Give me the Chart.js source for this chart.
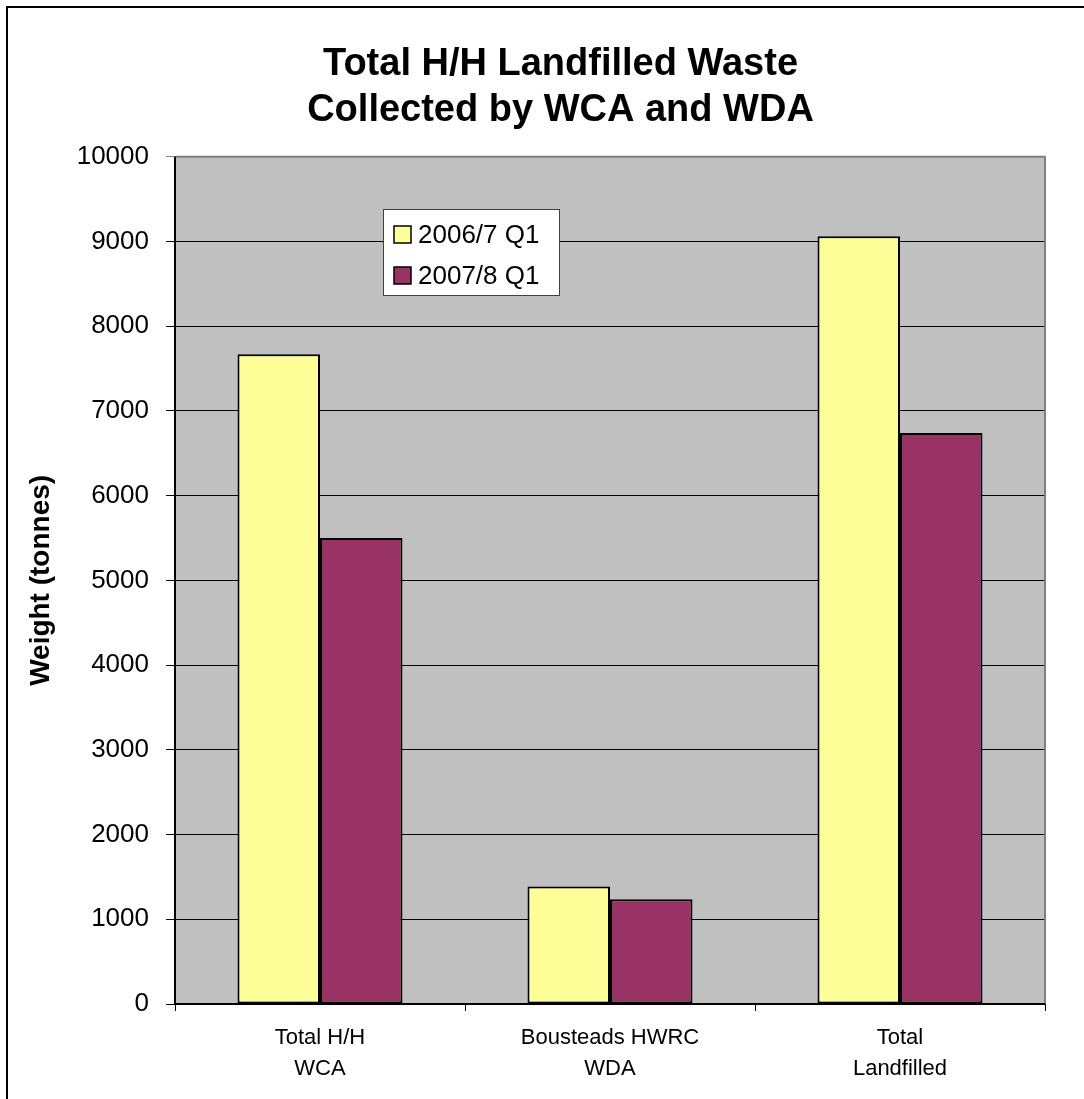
<!DOCTYPE html>
<html>
<head>
<meta charset="utf-8">
<script src="https://cdn.jsdelivr.net/npm/chart.js@4.4.1/dist/chart.umd.min.js"></script>
<style>
  html, body { margin: 0; padding: 0; background: #fff; overflow: hidden; }
  #wrap { position: relative; width: 1084px; height: 1099px; }
  #frame { position: absolute; left: 6px; top: 6px; width: 1200px; height: 1200px; border-top: 2px solid #000; border-left: 2px solid #000; }
  canvas { position: absolute; left: 0; top: 0; }
</style>
</head>
<body>
<div id="wrap">
  <div id="frame"></div>
  <canvas id="c" width="1084" height="1099"></canvas>
</div>
<script>
const categories = [["Total H/H", "WCA"], ["Bousteads HWRC", "WDA"], ["Total", "Landfilled"]];
const seriesNames = ["2006/7 Q1", "2007/8 Q1"];
const values2006 = [7670, 1386, 9062];
const values2007 = [5500, 1236, 6740];
const yTicks = [0, 1000, 2000, 3000, 4000, 5000, 6000, 7000, 8000, 9000, 10000];
const titleLines = ["Total H/H Landfilled Waste", "Collected by WCA and WDA"];
const yTitle = "Weight (tonnes)";

const FONT = "'Liberation Sans', Arial, sans-serif";

const plotBg = {
  id: 'plotBg',
  afterLayout(chart) {
    const t = chart.titleBlock;
    if (t) { t.left += 38; t.right += 38; }
  },
  beforeDraw(chart) {
    const { ctx, chartArea: a } = chart;
    ctx.save();
    ctx.fillStyle = '#C0C0C0';
    ctx.fillRect(a.left, a.top, a.right - a.left, a.bottom - a.top);
    ctx.restore();
  },
  afterDatasetsDraw(chart) {
    const { ctx, chartArea: a } = chart;
    ctx.save();
    ctx.strokeStyle = '#808080';
    ctx.lineWidth = 2;
    ctx.beginPath();
    ctx.moveTo(a.left, a.top);
    ctx.lineTo(a.right, a.top);
    ctx.lineTo(a.right, a.bottom);
    ctx.stroke();
    ctx.strokeStyle = '#000';
    ctx.lineWidth = 2;
    ctx.beginPath();
    ctx.moveTo(a.left, a.top);
    ctx.lineTo(a.left, a.bottom);
    ctx.lineTo(a.right, a.bottom);
    ctx.stroke();
    ctx.restore();
  }
};

const boxLegend = {
  id: 'boxLegend',
  afterDraw(chart) {
    const { ctx } = chart;
    const x = 383.5, y = 209.5, w = 176, h = 86;
    ctx.save();
    ctx.fillStyle = '#fff';
    ctx.fillRect(x, y, w, h);
    ctx.strokeStyle = '#404040';
    ctx.lineWidth = 1;
    ctx.strokeRect(x, y, w, h);
    ctx.font = "26px " + FONT;
    ctx.textBaseline = 'alphabetic';
    ctx.textAlign = 'left';
    chart.data.datasets.forEach((ds, i) => {
      const sy = 226 + i * 41;
      ctx.fillStyle = ds.backgroundColor;
      ctx.fillRect(394, sy, 17, 17);
      ctx.strokeStyle = '#000';
      ctx.lineWidth = 1.5;
      ctx.strokeRect(394, sy, 17, 17);
      ctx.fillStyle = '#000';
      ctx.fillText(ds.label, 418, 243 + i * 41);
    });
    ctx.restore();
  }
};

new Chart(document.getElementById('c'), {
  type: 'bar',
  data: {
    labels: categories,
    datasets: [
      { label: seriesNames[0], data: values2006, backgroundColor: '#FFFF99', borderColor: '#000', borderWidth: 2, borderSkipped: false },
      { label: seriesNames[1], data: values2007, backgroundColor: '#993366', borderColor: '#000', borderWidth: 2, borderSkipped: false }
    ]
  },
  options: {
    responsive: false,
    animation: false,
    devicePixelRatio: 1,
    layout: { padding: { left: 0, right: 39, top: 0, bottom: 0 } },
    datasets: { bar: { categoryPercentage: 0.569, barPercentage: 1.0 } },
    plugins: {
      legend: { display: false },
      tooltip: { enabled: false },
      title: {
        display: true,
        text: titleLines,
        color: '#000',
        font: { family: FONT, size: 38, weight: 'bold', lineHeight: 1.22 },
        padding: { top: 41, bottom: 23 }
      }
    },
    scales: {
      x: {
        offset: true,
        grid: { display: true, drawOnChartArea: false, drawTicks: true, tickLength: 7, color: '#000', lineWidth: 1, offset: true },
        border: { display: false },
        ticks: { color: '#000', font: { family: FONT, size: 22, lineHeight: 1.38 }, padding: 12, maxRotation: 0, autoSkip: false },
        afterFit(scale) { scale.height = 95; }
      },
      y: {
        min: 0,
        max: 10000,
        afterBuildTicks(scale) { scale.ticks = yTicks.map(v => ({ value: v })); },
        grid: {
          color: (ctx) => (ctx.tick && ctx.tick.value === 10000) ? '#808080' : '#000',
          lineWidth: 1,
          tickLength: 9,
          drawTicks: true
        },
        border: { display: false },
        ticks: { color: '#000', font: { family: FONT, size: 26 }, padding: 17, callback: (v) => String(v) },
        title: {
          display: true,
          text: yTitle,
          color: '#000',
          font: { family: FONT, size: 28, weight: 'bold' },
          padding: { top: 24, bottom: 0 }
        },
        afterFit(scale) { scale.width = 175; }
      }
    }
  },
  plugins: [plotBg, boxLegend]
});
</script>
</body>
</html>
